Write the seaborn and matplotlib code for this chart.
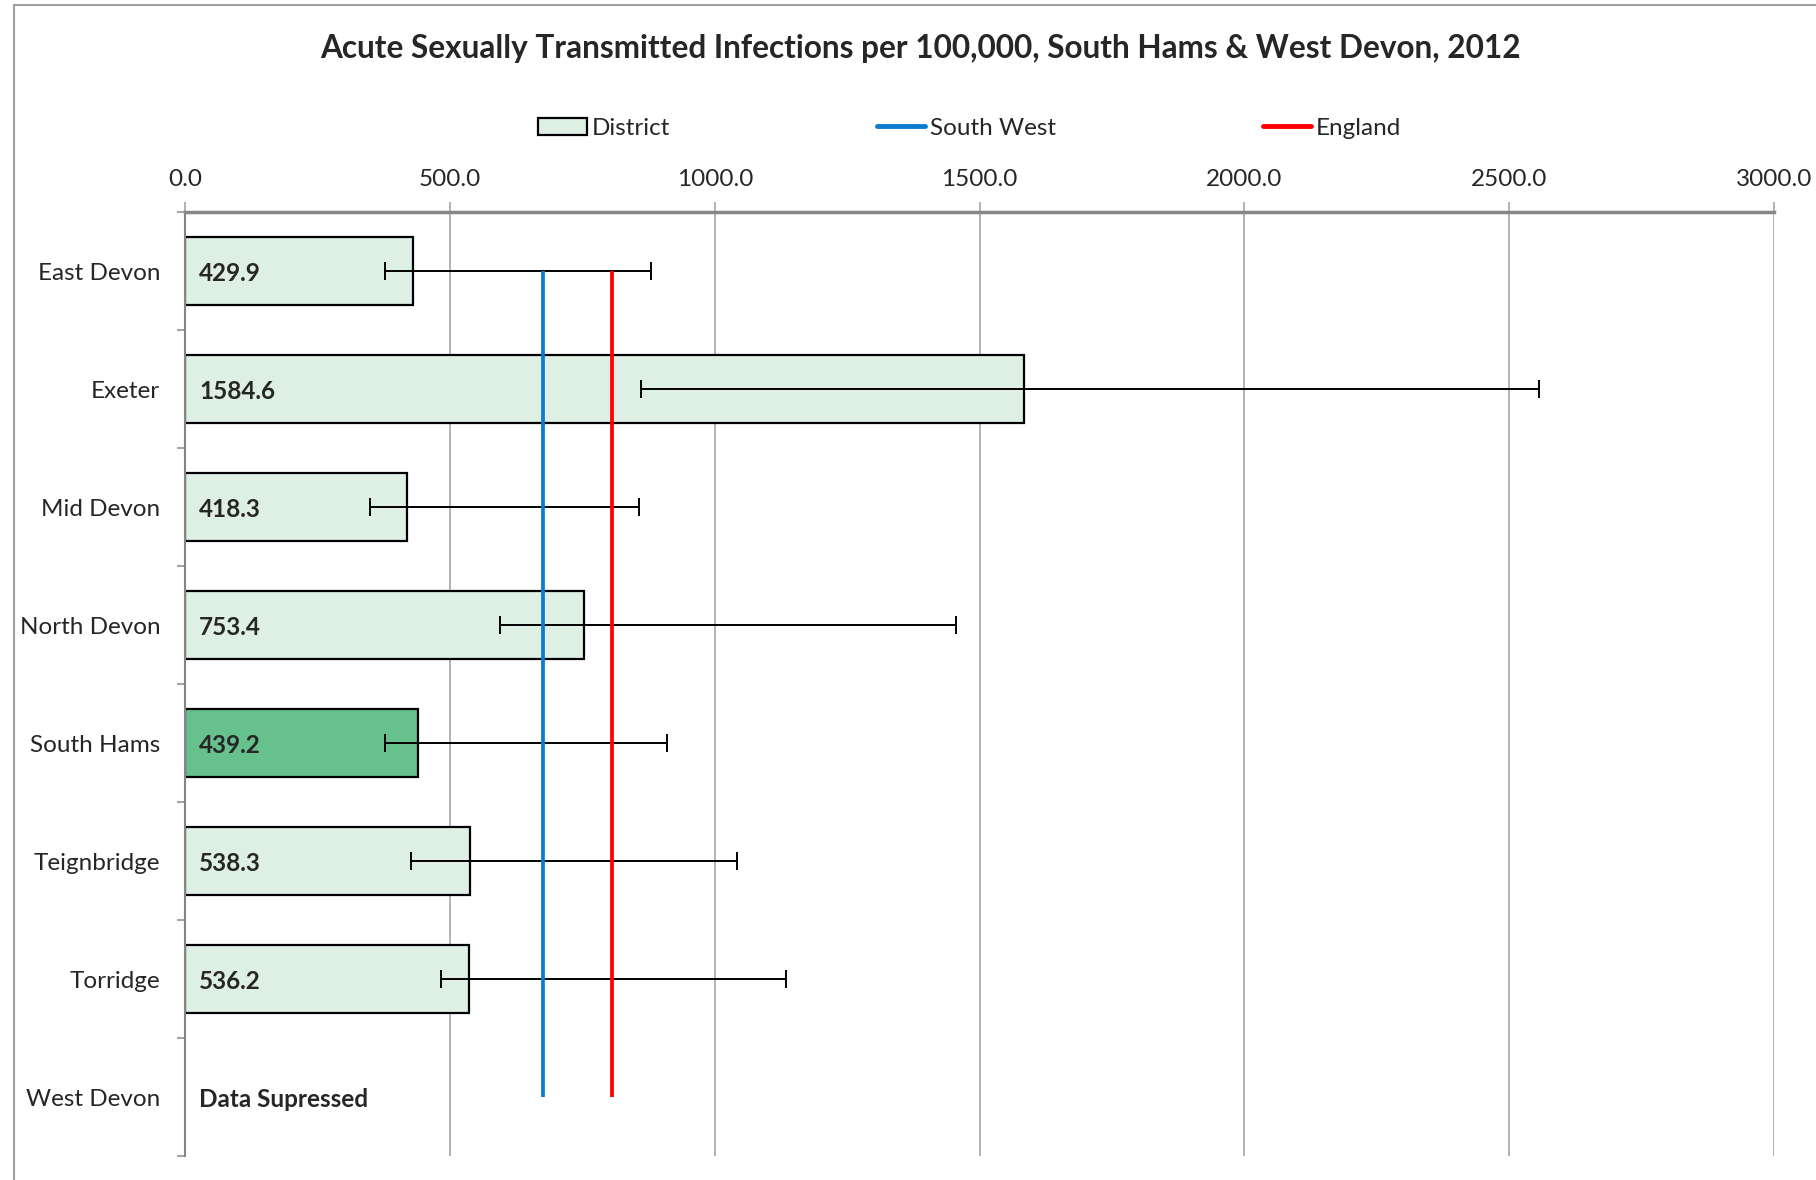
import matplotlib
matplotlib.use("Agg")
import matplotlib.pyplot as plt
from matplotlib.patches import Patch, Rectangle
from matplotlib.lines import Line2D
from matplotlib.ticker import FormatStrFormatter, FixedLocator
import numpy as np
import pandas as pd
import seaborn as sns

# data
districts = ["East Devon", "Exeter", "Mid Devon", "North Devon",
             "South Hams", "Teignbridge", "Torridge", "West Devon"]
rates = [429.9, 1584.6, 418.3, 753.4, 439.2, 538.3, 536.2, np.nan]
ci_low = [378, 860, 348, 595, 378, 427, 483, np.nan]
ci_high = [879, 2556, 857, 1455, 909, 1041, 1135, np.nan]
south_west = 676
england = 805
highlight = "South Hams"

light = "#DEF0E3"
dark = "#66C18D"
blue = "#0B7BD0"
red = "#FF0000"
grid_grey = "#A6A6A6"

sns.set_style("white")
plt.rcParams["font.family"] = ["Lato", "DejaVu Sans"]

df = pd.DataFrame({"District": districts, "Rate": rates})
palette = {d: (dark if d == highlight else light) for d in districts}

fig = plt.figure(figsize=(18.16, 11.8), dpi=100)
ax = fig.add_axes([0.1020, 0.0203, 0.8749, 0.8000])

sns.barplot(data=df, y="District", x="Rate", hue="District", palette=palette,
            order=districts, width=0.57, edgecolor="black", linewidth=1.6,
            legend=False, orient="h", ax=ax, saturation=1)

# confidence intervals
ypos = np.arange(len(districts))
r = np.array(rates)
xerr = [r - np.array(ci_low), np.array(ci_high) - r]
ax.errorbar(r, ypos, xerr=xerr, fmt="none", ecolor="black",
            elinewidth=1.4, capsize=6.5, capthick=1.4, zorder=3)

# regional and national averages
ax.vlines(south_west, 0, len(districts) - 1, color=blue, lw=2.7, zorder=4)
ax.vlines(england, 0, len(districts) - 1, color=red, lw=2.7, zorder=4)

for i, v in enumerate(rates):
    txt = "Data Supressed" if np.isnan(v) else f"{v:.1f}"
    ax.annotate(txt, (0, i), xytext=(10, 0), textcoords="offset points",
                va="center_baseline", ha="left", fontsize=17.5, fontweight="bold", zorder=5)

ax.set_xlim(0, 3000)
ax.set_ylim(len(districts) - 0.5, -0.5)
ax.xaxis.tick_top()
ax.set_xticks(np.arange(0, 3001, 500))
ax.xaxis.set_major_formatter(FormatStrFormatter("%.1f"))
ax.tick_params(axis="x", which="major", length=7, color=grid_grey, width=1.2,
               labelsize=17.5, pad=9)
ax.grid(axis="x", color=grid_grey, lw=1.2)
ax.set_axisbelow(True)
ax.set_xlabel("")
ax.set_ylabel("")

ax.yaxis.set_minor_locator(FixedLocator(np.arange(-0.5, len(districts), 1)))
ax.tick_params(axis="y", which="major", length=0, labelsize=17.5, pad=18)
ax.tick_params(axis="y", which="minor", length=6, color=grid_grey, width=1.5, left=True)

for s in ["right", "bottom"]:
    ax.spines[s].set_visible(False)
ax.spines["top"].set_color("#868686")
ax.spines["top"].set_linewidth(2.5)
ax.spines["left"].set_color("#868686")
ax.spines["left"].set_linewidth(1.5)

fig.text(0.507, 0.959, "Acute Sexually Transmitted Infections per 100,000, South Hams & West Devon, 2012",
         ha="center", va="center", fontsize=22.7, fontweight="bold")

handles = [Patch(facecolor=light, edgecolor="black", linewidth=1.6),
           Line2D([0], [0], color=blue, lw=3.5),
           Line2D([0], [0], color=red, lw=3.5)]
fig.legend(handles, ["District", "South West", "England"], loc="center",
           bbox_to_anchor=(0.534, 0.8915), ncol=3, frameon=False, fontsize=17.5,
           handlelength=2.0, handletextpad=0.2, columnspacing=8.5)

# chart-area border (left and top visible)
fig.patches.append(Rectangle((14 / 1816, -0.1), 1.2, 1.1 - 5 / 1180, fill=False,
                             edgecolor="#A0A0A0", lw=1.5, transform=fig.transFigure))

fig.savefig("out.png", dpi=100)
